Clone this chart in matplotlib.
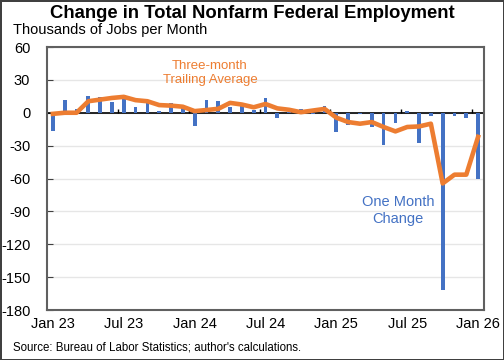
import matplotlib.pyplot as plt
import numpy as np

# Monthly data, Jan 2023 .. Jan 2026 (thousands of jobs)
months = ["Jan 23", "Feb 23", "Mar 23", "Apr 23", "May 23", "Jun 23",
          "Jul 23", "Aug 23", "Sep 23", "Oct 23", "Nov 23", "Dec 23",
          "Jan 24", "Feb 24", "Mar 24", "Apr 24", "May 24", "Jun 24",
          "Jul 24", "Aug 24", "Sep 24", "Oct 24", "Nov 24", "Dec 24",
          "Jan 25", "Feb 25", "Mar 25", "Apr 25", "May 25", "Jun 25",
          "Jul 25", "Aug 25", "Sep 25", "Oct 25", "Nov 25", "Dec 25",
          "Jan 26"]
one_month = [-17, 12, 3, 15.5, 14.5, 10, 16, 5.5, 8.5, 2, 8.7, 4.5,
             -11.8, 11.5, 10.5, 4.8, 6.2, 2.5, 13.6, -4.9, 0.5, 3.6, -1.5, 6.6,
             -17.6, -10.8, -1, -13, -29.7, -9, 2, -28, -3.4, -162, -3, -4.5,
             -60]
three_month = [-1, 0, 0, 10.5, 12, 13.5, 14.5, 11.5, 10.5, 7, 6.5, 5.5,
               1.5, 2.5, 3.6, 9, 7.5, 5, 8, 4, 2.7, 0.5, 2, 3.5,
               -4.5, -8.5, -10, -8.5, -13, -17, -13, -12.5, -10, -64.5, -56.5, -56.5,
               -22]
label_every = 6
y_ticks = [60, 30, 0, -30, -60, -90, -120, -150, -180]

BLUE = "#4472C4"
ORANGE = "#ED7D31"

plt.rcParams['font.family'] = ['Liberation Sans', 'DejaVu Sans']

fig = plt.figure(figsize=(5.04, 3.6), dpi=100)
fig.patch.set_edgecolor('#404040')
fig.patch.set_linewidth(2)
ax = fig.add_axes([47 / 504, 1 - 310 / 360, 437 / 504, 263 / 360])

x = np.arange(len(months))
ax.bar(x, one_month, width=0.32, color=BLUE, zorder=3)
ax.plot(x, three_month, color=ORANGE, lw=3.3, zorder=4)

ax.set_xlim(-0.5, len(months) - 0.5)
ax.set_ylim(-180, 60)
ax.set_yticks(y_ticks)
ax.set_yticklabels([str(v) for v in y_ticks])
ticks = x[::label_every]
ax.set_xticks(ticks)
ax.set_xticklabels([months[i] for i in ticks])
ax.tick_params(axis='x', length=0, pad=5, labelsize=10.5)
ax.tick_params(axis='y', direction='in', length=4, pad=12, labelsize=10.5,
               color='#404040')

ax.yaxis.grid(True, color='#E6E6E6', lw=1, zorder=0)
ax.axhline(0, color='black', lw=1.2, zorder=2)
# small category ticks on the zero line
bounds = x[label_every::label_every] - 0.5
ax.vlines(bounds, 0, 3.5, color='black', lw=1, zorder=2)
for s in ax.spines.values():
    s.set_color('#606060')
    s.set_linewidth(1.5)

ax.text(13.3, 36, "Three-month\nTrailing Average", color=ORANGE, fontsize=9.5,
        ha='center', va='center', linespacing=1.2)
ax.text(29.2, -89, "One Month\nChange", color=BLUE, fontsize=10.5,
        ha='center', va='center', linespacing=1.25)

fig.text(0.5, 1 - 13 / 360, "Change in Total Nonfarm Federal Employment",
         fontsize=13.3, fontweight='bold', ha='center', va='center')
fig.text(13 / 504, 1 - 30 / 360, "Thousands of Jobs per Month",
         fontsize=10.5, ha='left', va='center')
fig.text(13 / 504, 1 - 347 / 360, "Source: Bureau of Labor Statistics; author's calculations.",
         fontsize=8.3, ha='left', va='center')

fig.savefig("out.png", dpi=100, edgecolor=fig.get_edgecolor())
